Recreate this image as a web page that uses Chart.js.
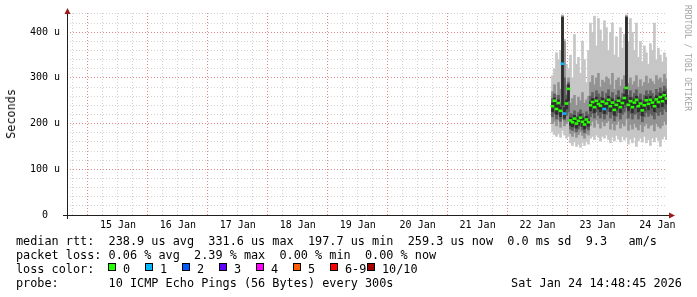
<!DOCTYPE html>
<html>
<head>
<meta charset="utf-8">
<script src="https://cdn.jsdelivr.net/npm/chart.js@4.4.1/dist/chart.umd.min.js"></script>
<style>
  body { margin: 0; background: #fff; }
  #wrap { position: relative; width: 697px; height: 297px; overflow: hidden; }
  #chart { position: absolute; left: 0; top: 0; }
  .t { position: absolute; font-family: "DejaVu Sans Mono", monospace; font-size: 11.83px; line-height: 14px; white-space: pre; color: #000; }
  .box { position: absolute; top: 263px; width: 8px; height: 8px; box-sizing: border-box; border: 1px solid #000; }
  #ylab { position: absolute; left: 4px; top: 89px; writing-mode: vertical-rl; transform: rotate(180deg); }
  #wm { position: absolute; left: 682px; top: 5px; writing-mode: vertical-rl; font-family: "DejaVu Sans Mono", monospace; font-size: 8px; line-height: 10px; color: #a4a4a4; white-space: pre; }
</style>
</head>
<body>
<div id="wrap">
  <canvas id="chart" width="697" height="297"></canvas>
  <div class="t" id="ylab">Seconds</div>
  <div id="wm">RRDTOOL / TOBI OETIKER</div>
  <div class="t" style="left:16px;top:234px">median rtt:  238.9 us avg  331.6 us max  197.7 us min  259.3 us now  0.0 ms sd  9.3   am/s</div>
  <div class="t" style="left:16px;top:248px">packet loss: 0.06 % avg  2.39 % max  0.00 % min  0.00 % now</div>
  <div class="t" style="left:16px;top:262px">loss color:</div>
  <div id="losslegend"></div>
  <div class="t" style="left:16px;top:276px">probe:       10 ICMP Echo Pings (56 Bytes) every 300s</div>
  <div class="t" style="right:15px;top:276px">Sat Jan 24 14:48:45 2026</div>
</div>
<script>
// x in days since 14 Jan 00:00, one column every 48 min starting 22 Jan 18:00
const startDay = 8.75;
const stepDay = 0.8 / 24;

// ping rtt in microseconds, per column
const median = [238,250,232,245,228,331,222,244,276,207,203,211,200,206,213,204,198,209,203,240,
                247,236,250,243,239,248,232,244,252,238,246,230,241,250,236,245,256,278,241,249,
                236,246,252,238,244,229,240,251,243,252,246,238,253,247,258,249,262,255];
const loss   = [0,0,0,0,0,1,1,0,0,0,0,0,0,0,0,0,0,0,0,0,
                0,0,0,0,0,0,1,0,0,0,0,0,0,0,0,0,0,0,0,0,
                0,0,0,0,0,0,0,0,0,0,0,0,0,0,0,0,0,0];
const maxRtt = [305,320,355,340,360,438,385,330,320,350,300,395,330,345,310,380,340,290,360,420,
                400,435,370,430,405,380,425,410,360,400,420,350,390,345,410,365,395,438,380,430,
                400,360,420,345,380,335,370,355,330,375,360,420,340,365,350,335,355,345];
const hi2    = [270,285,262,290,275,436,380,285,300,245,255,262,240,258,250,268,245,252,260,290,
                305,285,300,310,280,295,290,302,298,285,310,275,295,300,282,296,305,436,288,300,
                285,292,305,280,296,282,290,304,288,298,292,286,305,296,300,290,308,298];
const hi3    = [255,265,248,262,245,434,300,262,290,222,220,228,215,224,230,222,214,226,220,260,
                268,255,272,265,258,270,255,266,274,258,268,250,262,272,256,266,276,434,262,272,
                258,266,274,258,265,250,262,272,264,272,266,258,275,268,278,270,282,276];
const hi4    = [245,256,240,252,236,432,235,252,285,213,210,218,206,214,220,212,205,216,210,248,
                255,244,258,250,246,256,240,252,260,246,254,238,249,258,244,252,264,432,249,257,
                244,254,260,246,252,237,248,259,251,260,254,246,261,255,266,257,270,263];
const lo4    = [226,236,220,232,215,240,212,232,250,196,193,200,190,196,202,194,188,198,194,228,
                236,224,238,232,226,236,222,232,240,226,234,218,229,238,224,234,242,245,228,236,
                224,234,240,226,232,217,228,238,230,240,234,226,240,235,246,237,250,243];
const lo3    = [215,222,210,220,205,228,208,218,225,188,185,192,182,188,194,186,180,190,186,215,
                222,212,226,218,212,222,210,220,226,212,220,206,216,224,210,220,225,235,212,222,
                210,220,222,210,218,204,215,224,216,222,218,210,224,218,226,220,232,226];
const lo2    = [200,205,195,208,192,210,195,200,205,178,172,180,170,176,182,174,168,178,175,196,
                205,192,208,200,190,204,195,202,206,188,200,186,198,205,190,200,195,210,185,198,
                188,200,192,186,198,182,195,200,190,196,198,184,200,194,190,196,205,198];
const minRtt = [182,176,172,178,170,185,175,168,172,158,152,160,150,155,148,158,152,160,155,168,
                172,165,175,170,162,172,168,175,165,158,170,162,174,166,160,172,164,170,155,166,
                158,170,150,162,168,160,172,158,165,152,168,160,170,163,150,166,172,165];

const lossLabels = ['0', '1', '2', '3', '4', '5', '6-9', '10/10'];
const lossColors = ['#26ff00', '#00b8ff', '#0059ff', '#5e00ff', '#ff00ff', '#ff5e00', '#ff0000', '#a10000'];

// legend boxes
const leg = document.getElementById('losslegend');
lossLabels.forEach((lab, i) => {
  const b = document.createElement('div');
  b.className = 'box';
  b.style.left = (108 + i * 37) + 'px';
  b.style.background = lossColors[i];
  leg.appendChild(b);
  const t = document.createElement('div');
  t.className = 't';
  t.style.left = (123 + i * 37) + 'px';
  t.style.top = '262px';
  t.textContent = lab;
  leg.appendChild(t);
});

const xs = median.map((_, i) => startDay + i * stepDay);
function band(lo, hi) {
  return xs.map((x, i) => ({ x: x, y: [lo[i], hi[i]] }));
}

const bands = [
  { lo: minRtt, hi: maxRtt, color: '#c6c6c6' },
  { lo: lo2, hi: hi2, color: '#929292' },
  { lo: lo3, hi: hi3, color: '#5e5e5e' },
  { lo: lo4, hi: hi4, color: '#2c2c2c' }
];

const datasets = bands.map((b, k) => ({
  type: 'bar',
  data: band(b.lo, b.hi),
  backgroundColor: b.color,
  borderWidth: 0,
  grouped: false,
  barPercentage: 1,
  categoryPercentage: 1,
  order: 10 - k
}));

datasets.push({
  type: 'line',
  data: xs.map((x, i) => ({ x: x, y: median[i] })),
  showLine: false,
  pointStyle: 'line',
  pointRadius: 1.8,
  pointBorderWidth: 2.6,
  pointBorderColor: loss.map(l => lossColors[l]),
  pointBackgroundColor: loss.map(l => lossColors[l]),
  order: 0
});

const minorGrid = '#d2d2d2';
const majorGrid = '#e58686';

function isMajor(c, unit) {
  if (!c.tick) return false;
  const r = c.tick.value / unit;
  return Math.abs(r - Math.round(r)) < 1e-6;
}

const axesPlugin = {
  id: 'rrdAxes',
  afterDatasetsDraw(chart) {
    const { ctx, chartArea: a } = chart;
    ctx.save();
    ctx.strokeStyle = '#1e1e1e';
    ctx.lineWidth = 1;
    ctx.beginPath();
    ctx.moveTo(a.left - 4, a.bottom + 0.5);
    ctx.lineTo(a.right + 3, a.bottom + 0.5);
    ctx.moveTo(a.left + 0.5, a.bottom + 4);
    ctx.lineTo(a.left + 0.5, a.top - 2);
    ctx.stroke();
    ctx.fillStyle = '#9b1b1b';
    ctx.beginPath();
    ctx.moveTo(a.right + 8, a.bottom + 0.5);
    ctx.lineTo(a.right + 2, a.bottom - 2.5);
    ctx.lineTo(a.right + 2, a.bottom + 3.5);
    ctx.closePath();
    ctx.fill();
    ctx.beginPath();
    ctx.moveTo(a.left + 0.5, a.top - 5);
    ctx.lineTo(a.left - 2.5, a.top + 1);
    ctx.lineTo(a.left + 3.5, a.top + 1);
    ctx.closePath();
    ctx.fill();
    ctx.restore();
  }
};

const tickFont = { family: 'DejaVu Sans Mono', size: 10 };

new Chart(document.getElementById('chart'), {
  type: 'bar',
  data: { datasets: datasets },
  plugins: [axesPlugin],
  options: {
    responsive: false,
    animation: false,
    devicePixelRatio: 1,
    events: [],
    layout: { padding: { left: 0, right: 30, top: 12, bottom: 0 } },
    plugins: { legend: { display: false }, tooltip: { enabled: false } },
    scales: {
      x: {
        type: 'linear',
        min: 0.65,
        max: 10.66,
        offset: false,
        grid: {
          offset: false,
          drawTicks: false,
          color: c => isMajor(c, 1) ? majorGrid : minorGrid
        },
        border: { display: false, dash: [1, 2] },
        ticks: {
          stepSize: 0.25,
          autoSkip: false,
          includeBounds: false,
          maxRotation: 0,
          minRotation: 0,
          padding: 4,
          color: '#000',
          font: tickFont,
          callback: v => Math.abs((v % 1) - 0.5) < 1e-6 ? (14 + Math.floor(v)) + ' Jan' : ''
        },
        afterFit: s => { s.height = 82; }
      },
      y: {
        min: 0,
        max: 442,
        grid: {
          drawTicks: false,
          color: c => isMajor(c, 100) ? majorGrid : minorGrid
        },
        border: { display: false, dash: [1, 2] },
        ticks: {
          stepSize: 20,
          autoSkip: false,
          padding: 7,
          color: '#000',
          font: tickFont,
          callback: v => v === 0 ? '0  ' : (v % 100 === 0 ? (v / 100) + '00 u' : '')
        },
        afterFit: s => { s.width = 67; }
      }
    }
  }
});
</script>
</body>
</html>
